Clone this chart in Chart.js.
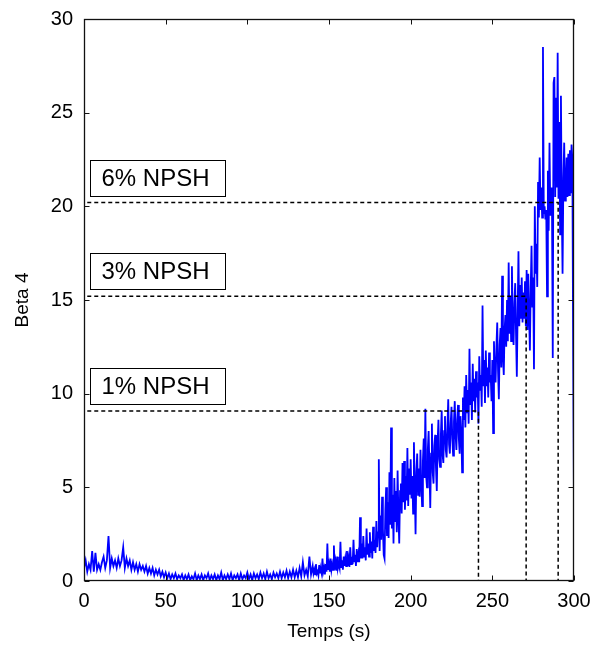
<!DOCTYPE html>
<html>
<head>
<meta charset="utf-8">
<script src="https://cdn.jsdelivr.net/npm/chart.js@4/dist/chart.umd.min.js"></script>
<style>
html,body{margin:0;padding:0;background:#fff;}
canvas{display:block;}
</style>
</head>
<body>
<canvas id="c" width="594" height="648"></canvas>
<script>
// Beta 4 signal, 0 .. 139 s, one sample per second
const beta4Early = [
0.7,1.1,0.5,0.9,0.6,1.6,0.5,1.5,0.6,0.9,
0.6,1.0,1.3,0.7,1.1,2.4,0.7,1.2,0.8,1.1,
0.7,1.2,0.8,1.1,1.8,0.7,1.2,0.8,1.1,0.6,
1.0,0.6,0.9,0.5,0.9,0.6,0.8,0.5,0.8,0.4,
0.7,0.4,0.7,0.3,0.6,0.35,0.6,0.25,0.5,0.2,
0.45,0.15,0.4,0.1,0.35,0.15,0.4,0.1,0.3,0.15,
0.35,0.05,0.3,0.1,0.35,0.05,0.25,0.1,0.4,0.05,
0.3,0.1,0.35,0.05,0.3,0.15,0.4,0.05,0.3,0.1,
0.35,0.05,0.3,0.1,0.45,0.05,0.3,0.1,0.35,0.1,
0.4,0.05,0.3,0.15,0.35,0.05,0.4,0.1,0.3,0.15,
0.45,0.1,0.35,0.05,0.4,0.15,0.35,0.1,0.45,0.15,
0.4,0.1,0.5,0.15,0.35,0.1,0.45,0.2,0.4,0.15,
0.5,0.15,0.45,0.2,0.55,0.15,0.5,0.2,0.6,0.2,
0.55,0.2,0.7,0.25,1.0,0.3,0.6,0.25,1.3,0.35
];
// Beta 4 signal, 140 .. 300 s, two samples per second
const beta4Late = [
0.8,0.4, 0.6,0.35, 0.9,0.4, 0.5,0.3, 0.85,0.45, 0.6,0.4, 1.2,0.5, 0.7,0.35, 0.9,0.5, 2.0,0.6,
0.9,0.5, 1.2,0.6, 0.9,0.6, 1.9,0.6, 1.0,0.55, 1.3,0.7, 0.9,0.7, 2.1,0.7, 1.1,0.6, 1.3,0.8,
1.2,0.8, 1.6,0.8, 1.2,0.75, 1.8,0.9, 1.3,0.9, 2.2,1.0, 1.4,0.8, 1.7,1.0, 1.4,1.0, 3.4,1.2,
2.0,1.2, 2.4,1.3, 1.8,1.1, 2.8,1.4, 2.0,1.3, 2.6,1.5, 2.1,1.2, 2.9,1.6, 2.2,1.5, 3.2,1.8,
2.6,6.5, 1.6,3.5, 2.2,4.5, 2.8,1.4, 1.2,3.8, 5.0,2.4, 4.2,2.3, 5.8,3.0, 8.2,2.8, 4.6,2.0,
5.5,3.2, 4.8,2.6, 5.9,3.5, 2.0,4.8, 5.2,3.6, 6.3,4.2, 6.4,3.8, 5.6,4.3, 7.1,4.0, 6.0,4.6,
6.5,4.4, 5.6,3.6, 7.4,5.0, 2.5,5.8, 6.8,4.6, 6.0,4.5, 7.0,5.2, 4.0,6.4, 7.6,5.5, 9.2,5.6,
5.0,7.0, 8.0,6.0, 3.9,6.8, 8.4,5.8, 5.2,7.2, 7.8,6.0, 4.8,7.4, 8.6,6.5, 6.1,7.8, 9.1,6.8,
6.3,8.0, 8.8,7.0, 6.6,8.2, 9.7,7.3, 6.8,8.4, 9.3,7.6, 6.7,8.5, 9.6,7.8, 7.0,8.6, 9.4,7.6,
6.8,8.8, 8.0,5.8, 9.8,8.6, 10.4,8.2, 11.0,9.0, 10.2,8.4, 12.4,9.4, 10.6,8.6, 11.6,9.6, 10.8,9.0,
11.2,9.8, 10.6,8.4, 12.0,10.2, 11.0,9.3, 14.7,10.4, 11.8,9.5, 12.3,10.4, 11.4,9.8, 12.2,10.6, 11.0,9.6,
11.8,7.9, 12.8,11.0, 10.6,12.5, 13.8,11.2, 9.7,12.6, 13.5,11.4, 16.3,12.0, 11.0,13.4, 14.2,12.5, 15.0,12.8,
17.0,13.2, 15.2,12.8, 16.8,13.6, 12.6,14.8, 15.9,13.2, 10.9,14.4, 17.6,13.6, 15.8,14.0, 16.2,13.8, 15.4,14.0,
16.0,13.6, 16.6,13.4, 16.4,14.2, 12.3,15.6, 17.9,14.6, 16.2,11.3, 20.0,16.4, 18.0,15.7, 21.3,19.4, 22.6,19.8,
21.0,19.4, 28.5,19.6, 20.0,19.3, 19.8,15.2, 21.9,18.7, 23.4,19.5, 21.0,20.5, 11.9,26.6, 26.9,20.5, 25.8,21.0,
28.2,20.4, 24.5,18.5, 25.9,20.0, 16.4,21.5, 23.4,20.3, 21.0,22.6, 20.5,22.8, 20.6,23.0, 20.7,23.3, 22.5,12.0,
3.9
];
const earlyStep = 1;   // seconds
const lateStart = 140; // seconds
const lateStep = 0.5;  // seconds
const times = [
  ...beta4Early.map((v, i) => i * earlyStep),
  ...beta4Late.map((v, j) => lateStart + j * lateStep)
];
const beta4 = [...beta4Early, ...beta4Late];

// NPSH threshold markers
const npshLabels = ['1% NPSH', '3% NPSH', '6% NPSH'];
const npshLevels = [9.08, 15.2, 20.2];
const npshTimes  = [241.5, 270.7, 290.3];

// Axis ticks
const xTicks = [0, 50, 100, 150, 200, 250, 300];
const yTicks = [0, 5, 10, 15, 20, 25, 30];

const FONT = 'Arial, "Liberation Sans", Helvetica, sans-serif';

const signal = times.map((t, i) => ({x: t, y: beta4[i]}));
const dashedSets = npshLevels.map((lvl, i) => ({
  data: [{x: 2, y: lvl}, {x: npshTimes[i], y: lvl}, {x: npshTimes[i], y: 0}],
  borderColor: '#000',
  borderWidth: 1.5,
  borderDash: [4, 3],
  pointRadius: 0,
  fill: false,
  tension: 0,
  order: 0
}));

const matlabFrame = {
  id: 'matlabFrame',
  afterDraw(chart) {
    const {ctx, chartArea: a, scales: {x, y}} = chart;
    ctx.save();
    ctx.strokeStyle = '#111';
    ctx.lineWidth = 1;
    const L = Math.round(a.left) + 0.5, R = Math.round(a.right) - 0.5;
    const T = Math.round(a.top) + 0.5, B = Math.round(a.bottom) - 0.5;
    ctx.beginPath();
    xTicks.forEach(v => {
      const px = Math.round(x.getPixelForValue(v)) + 0.5;
      ctx.moveTo(px, B); ctx.lineTo(px, B - 5);
      ctx.moveTo(px, T); ctx.lineTo(px, T + 5);
    });
    yTicks.forEach(v => {
      const py = Math.round(y.getPixelForValue(v)) + 0.5;
      ctx.moveTo(L, py); ctx.lineTo(L + 5, py);
      ctx.moveTo(R, py); ctx.lineTo(R - 5, py);
    });
    ctx.stroke();
    ctx.lineWidth = 1.3;
    ctx.strokeRect(L, T, R - L, B - T);

    // NPSH label boxes
    ctx.lineWidth = 1;
    ctx.font = '24px ' + FONT;
    ctx.textBaseline = 'middle';
    ctx.textAlign = 'left';
    npshLabels.forEach((lab, i) => {
      const lineY = y.getPixelForValue(npshLevels[i]);
      const bx = Math.round(a.left + 6) + 0.5;
      const bb = Math.round(lineY - 7) + 0.5;
      const bw = 135, bh = 36;
      ctx.fillStyle = '#fff';
      ctx.fillRect(bx, bb - bh, bw, bh);
      ctx.strokeStyle = '#000';
      ctx.strokeRect(bx, bb - bh, bw, bh);
      ctx.fillStyle = '#000';
      ctx.fillText(lab, bx + 11, bb - bh / 2 + 1);
    });
    ctx.restore();
  }
};

new Chart(document.getElementById('c'), {
  type: 'line',
  data: {
    datasets: [
      ...dashedSets,
      {
        data: signal,
        borderColor: '#0000ff',
        borderWidth: 1.8,
        pointRadius: 0,
        fill: false,
        tension: 0,
        order: 1
      }
    ]
  },
  options: {
    responsive: false,
    animation: false,
    devicePixelRatio: 1,
    layout: {padding: {top: 19, right: 20, left: 0, bottom: 0}},
    plugins: {legend: {display: false}, tooltip: {enabled: false}},
    scales: {
      x: {
        type: 'linear', min: 0, max: 300,
        afterBuildTicks: s => { s.ticks = xTicks.map(v => ({value: v})); },
        afterFit: s => { s.height = 67; s.paddingLeft = 0; s.paddingRight = 0; },
        grid: {display: false, drawTicks: false},
        border: {display: false},
        ticks: {color: '#000', font: {family: FONT, size: 20}, padding: 8, maxRotation: 0},
        title: {display: true, text: 'Temps (s)', color: '#000',
                font: {family: FONT, size: 19, lineHeight: 1.2}, padding: {top: 0, bottom: 5}}
      },
      y: {
        type: 'linear', min: 0, max: 30,
        afterBuildTicks: s => { s.ticks = yTicks.map(v => ({value: v})); },
        afterFit: s => { s.width = 84; s.paddingTop = 0; s.paddingBottom = 0; },
        grid: {display: false, drawTicks: false},
        border: {display: false},
        ticks: {color: '#000', font: {family: FONT, size: 20}, padding: 11},
        title: {display: true, text: 'Beta 4', color: '#000',
                font: {family: FONT, size: 19, lineHeight: 1.2}, padding: {top: 11, bottom: 0}}
      }
    }
  },
  plugins: [matlabFrame]
});
</script>
</body>
</html>
